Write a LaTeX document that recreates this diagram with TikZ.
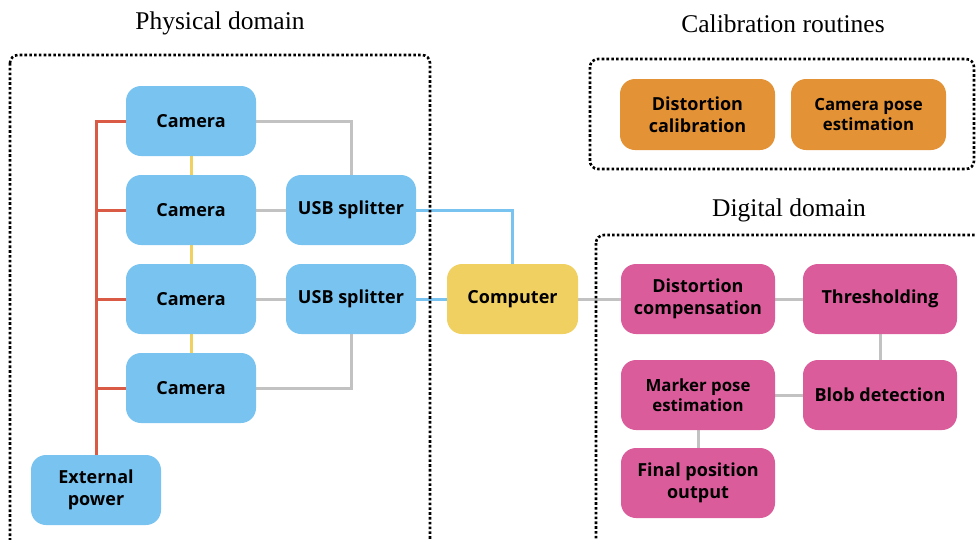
\documentclass[tikz,border=0pt]{standalone}
\usepackage{fontspec}
\setsansfont{Open Sans}
\newfontfamily\titlefont{Liberation Serif}
\usetikzlibrary{backgrounds}
\definecolor{cblue}{HTML}{78C3F0}
\definecolor{cyellow}{HTML}{F0D060}
\definecolor{corange}{HTML}{E39235}
\definecolor{cpink}{HTML}{DB5C9B}
\definecolor{cred}{HTML}{D95B45}
\definecolor{cgray}{HTML}{C2C2C2}
\tikzset{
  box/.style={rounded corners=15pt, minimum width=130pt, minimum height=70pt,
    align=center, inner sep=0pt, font=\sffamily\bfseries\fontsize{18}{22}\selectfont},
  smalltext/.style={font=\sffamily\bfseries\fontsize{16.8}{20.5}\selectfont},
  bluebox/.style={box, fill=cblue},
  pinkbox/.style={box, fill=cpink, minimum width=154pt},
  orangebox/.style={box, fill=corange, minimum width=155pt, minimum height=71pt},
  yellowbox/.style={box, fill=cyellow, minimum width=131pt},
  wire/.style={line width=3pt},
  graywire/.style={wire, draw=cgray},
  redwire/.style={wire, draw=cred},
  yellowwire/.style={wire, draw=cyellow},
  bluewire/.style={wire, draw=cblue},
  frame/.style={line width=2.6pt, dash pattern=on 2.6pt off 2.2pt, rounded corners=8pt},
  title/.style={font=\titlefont\fontsize{25.5}{28}\selectfont}
}
\begin{document}
\begin{tikzpicture}[x=1pt,y=-1pt]
\useasboundingbox (0,0) rectangle (976,539);
% titles
\node[title] (tphys) at (220,23) {Physical domain};
\node[title] (tcal) at (783,24) {Calibration routines};
\node[title] (tdig) at (789,210) {Digital domain};
% frames
\draw[frame] (10,55) rectangle (430,560);
\draw[frame] (590,59) rectangle (974,169);
\draw[frame] (596,235) rectangle (1000,560);
% physical nodes
\node[bluebox] (cam1) at (191,121) {Camera};
\node[bluebox] (cam2) at (191,210) {Camera};
\node[bluebox] (cam3) at (191,299) {Camera};
\node[bluebox] (cam4) at (191,388) {Camera};
\node[bluebox] (usb1) at (351,210) {USB splitter};
\node[bluebox] (usb2) at (351,299) {USB splitter};
\node[bluebox] (ext) at (96,490) {External\\power};
\node[yellowbox] (comp) at (512.5,299) {Computer};
% calibration
\node[orangebox] (dcal) at (697.5,114.5) {Distortion\\calibration};
\node[orangebox, smalltext] (cpose) at (868.5,114.5) {Camera pose\\estimation};
% digital
\node[pinkbox] (dcomp) at (698,299) {Distortion\\compensation};
\node[pinkbox] (thr) at (880,299) {Thresholding};
\node[pinkbox, smalltext] (mpose) at (698,395) {Marker pose\\estimation};
\node[pinkbox] (blob) at (880,395) {Blob detection};
\node[pinkbox] (final) at (698,483) {Final position\\output};
\begin{scope}[on background layer]
% power
\draw[redwire] (ext.north) -- (ext.north |- cam1.west) -- (cam1.west);
\draw[redwire] (ext.north |- cam2.west) -- (cam2.west);
\draw[redwire] (ext.north |- cam3.west) -- (cam3.west);
\draw[redwire] (ext.north |- cam4.west) -- (cam4.west);
% sync
\draw[yellowwire] (cam1) -- (cam2);
\draw[yellowwire] (cam2) -- (cam3);
\draw[yellowwire] (cam3) -- (cam4);
% usb
\draw[graywire] (cam1.east) -| (usb1.north);
\draw[graywire] (cam2.east) -- (usb1.west);
\draw[graywire] (cam3.east) -- (usb2.west);
\draw[graywire] (cam4.east) -| (usb2.south);
\draw[bluewire] (usb1.east) -| (comp.north);
\draw[bluewire] (usb2.east) -- (comp.west);
% processing
\draw[graywire] (comp.east) -- (dcomp.west);
\draw[graywire] (dcomp.east) -- (thr.west);
\draw[graywire] (thr.south) -- (blob.north);
\draw[graywire] (blob.west) -- (mpose.east);
\draw[graywire] (mpose.south) -- (final.north);
\end{scope}
\end{tikzpicture}
\end{document}
